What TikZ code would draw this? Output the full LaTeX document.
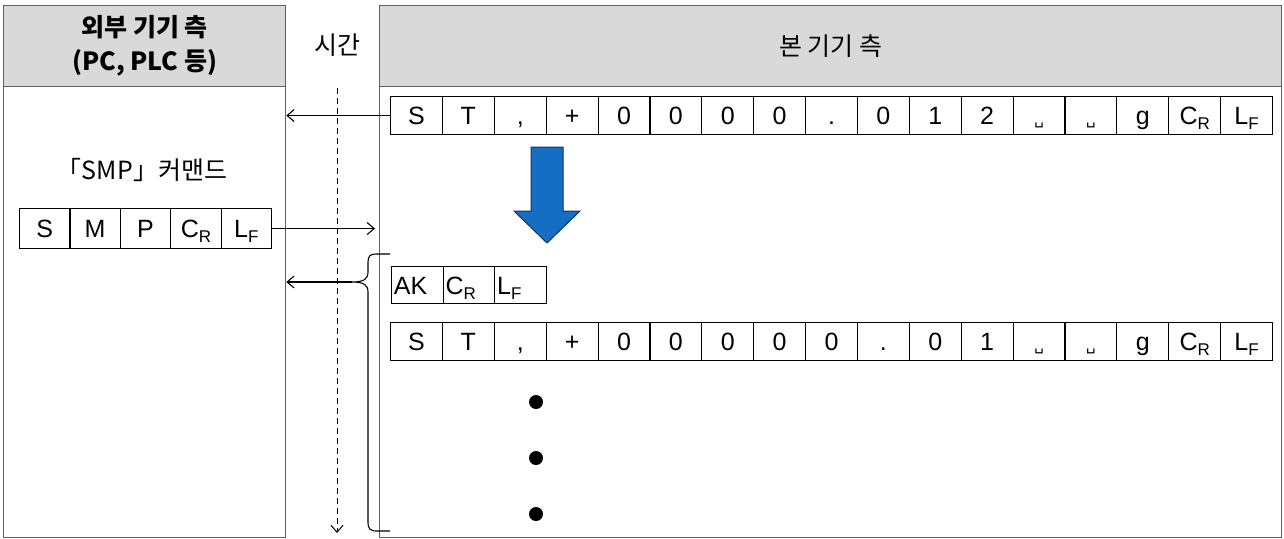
\documentclass[tikz,border=0pt]{standalone}
\usepackage{fontspec}
\setmainfont{Liberation Sans}
\newfontfamily\krfont{Noto Sans CJK KR}
\newfontfamily\symfont{DejaVu Sans}
\usetikzlibrary{arrows.meta}

\definecolor{hdrgray}{RGB}{217,217,217}
\definecolor{edgegray}{RGB}{95,95,95}
\definecolor{arrowblue}{RGB}{20,110,195}
\definecolor{arrowedge}{RGB}{25,50,95}

\newcommand{\CRsym}{C\raisebox{-5pt}{\fontsize{17}{17}\selectfont R}}
\newcommand{\LFsym}{L\raisebox{-5pt}{\fontsize{17}{17}\selectfont F}}
\newcommand{\SPsym}{{\symfont\fontsize{15}{15}\selectfont ␣}}

\tikzset{
  cell/.style={draw, line width=1.1pt, inner sep=0pt, anchor=north west,
    minimum width=#1, minimum height=38pt, text height=22pt, text depth=4pt,
    font=\fontsize{25}{25}\selectfont},
  cell/.default=51.88pt,
  hdrbox/.style={draw=edgegray, line width=1.3pt, fill=hdrgray, anchor=north west,
    align=center, minimum height=81pt},
  bodybox/.style={draw=edgegray, line width=1.3pt, anchor=north west, minimum height=451pt},
  krtext/.style={font=\krfont\fontsize{25}{34}\selectfont},
  krbold/.style={font=\krfont\bfseries\fontsize{25}{34}\selectfont},
  msgarrow/.style={line width=1.1pt, ->},
}

\begin{document}
\begin{tikzpicture}[x=1pt, y=-1pt, >={Straight Barb[length=7pt,width=12pt]}]
  \useasboundingbox (0,0) rectangle (1284,538);

  % 외부 기기 측
  \node[hdrbox, minimum width=282pt, krbold] (exthdr) at (3,5) {외부 기기 측\\(PC, PLC 등)};
  \node[bodybox, minimum width=282pt] (extbody) at (3,86) {};

  % 본 기기 측
  \node[hdrbox, minimum width=902pt, krtext] (ownhdr) at (379,5) {본 기기 측};
  \node[bodybox, minimum width=902pt] (ownbody) at (379,86) {};

  % 시간
  \node[krtext] (timelbl) at (337,45) {시간};
  \coordinate (timetop) at (337,88);
  \coordinate (timebot) at (337,533);
  \draw[line width=1pt, dash pattern=on 6pt off 4pt, ->] (timetop) -- (timebot);

  % 첫 번째 응답
  \foreach \t [count=\i] in {S,T,{,},+,0,0,0,0,.,0,1,2,\SPsym,\SPsym,g,\CRsym,\LFsym}
    \node[cell] (ra\i) at ({390+(\i-1)*51.88},96) {\t};
  \draw[msgarrow] (ra1.west) -- (ra1.west -| extbody.east);

  % 파란 화살표
  \draw[arrowedge, line width=1pt, fill=arrowblue]
    (531,147) -- (563,147) -- (563,211) -- (580,211) -- (547,243)
    -- (514,211) -- (531,211) -- cycle;

  % SMP 커맨드
  \node[krtext] (smplbl) at (142,170) {「SMP」커맨드};
  \foreach \t [count=\i] in {S,M,P,\CRsym,\LFsym}
    \node[cell=50.4pt, minimum height=40pt] (smp\i) at ({19+(\i-1)*50.4},208) {\t};
  \draw[msgarrow, shorten >=4pt] (smp5.east) -- (smp5.east -| ownbody.west);

  % AK 응답
  \foreach \t [count=\i] in {AK,\CRsym,\LFsym}
    \node[cell=51.67pt, minimum height=37pt, text width=47pt, align=left] (ak\i) at ({391+(\i-1)*51.67},266) {\t};

  % 두 번째 응답
  \foreach \t [count=\i] in {S,T,{,},+,0,0,0,0,0,.,0,1,\SPsym,\SPsym,g,\CRsym,\LFsym}
    \node[cell] (rb\i) at ({390+(\i-1)*51.88},322) {\t};

  % 중괄호
  \coordinate (bracetip) at (352,282);
  \draw[line width=1.1pt] (390,254) -- (377,254) .. controls (370,254) and (368,256) .. (368,262)
    -- (368,272) .. controls (368,279) and (364,282) .. (bracetip)
    .. controls (364,282) and (368,285) .. (368,292) -- (368,522)
    .. controls (368,529) and (370,531) .. (377,531) -- (390,531);
  \draw[msgarrow] (bracetip) -- (bracetip -| extbody.east);

  % 계속
  \foreach \y in {402,458,514}
    \fill (536,\y) circle (7pt);
\end{tikzpicture}
\end{document}
